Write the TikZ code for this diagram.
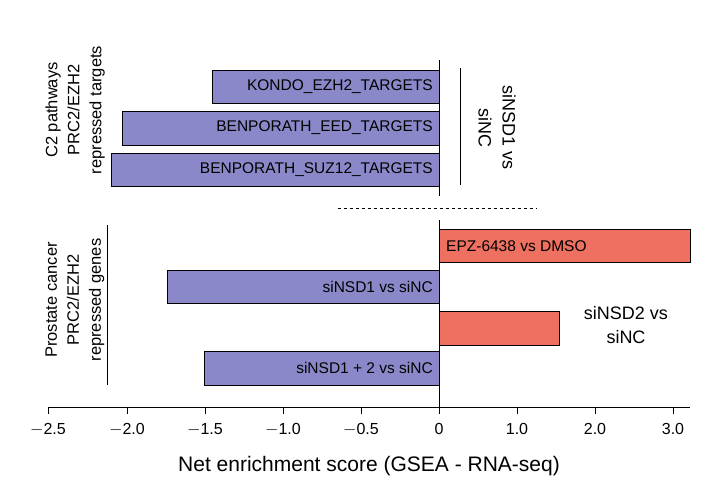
\documentclass[tikz,border=0pt]{standalone}
\usepackage{fontspec}
\setmainfont{Liberation Sans}
\definecolor{barblue}{RGB}{138,136,200}
\definecolor{barred}{RGB}{238,112,96}
\begin{document}
\begin{tikzpicture}[x=1pt,y=-1pt,
  bar/.style={draw=black,line width=0.8pt},
  blab/.style={anchor=east,font=\fontsize{15.5}{17}\selectfont,inner sep=0pt},
  tick/.style={line width=0.7pt},
  side/.style={rotate=90,align=center,font=\fontsize{16.5}{22}\selectfont}]
\useasboundingbox (0,0) rectangle (713,479);
% top group
\draw[bar,fill=barblue] (212,70) rectangle (439,103);
\draw[bar,fill=barblue] (122,111) rectangle (439,145);
\draw[bar,fill=barblue] (111,153) rectangle (439,186);
\node[blab] (k) at (433,87) {KONDO\_EZH2\_TARGETS};
\node[blab] (e) at (433,128) {BENPORATH\_EED\_TARGETS};
\node[blab] (s) at (433,170) {BENPORATH\_SUZ12\_TARGETS};
\draw[line width=0.7pt] (439,60) -- (439,196);
\draw[line width=0.7pt] (460,68) -- (460,185);
\node[rotate=-90,align=center,font=\fontsize{18}{24}\selectfont] (t1) at (497,128) {siNSD1 vs\\siNC};
\node[side] (l1) at (75,110) {C2 pathways\\PRC2/EZH2\\repressed targets};
\draw[dashed,line width=0.8pt] (338,208) -- (537,208);
% bottom group
\draw[bar,fill=barred] (439,229) rectangle (690,262);
\draw[bar,fill=barblue] (167,270) rectangle (439,303);
\draw[bar,fill=barred] (439,311) rectangle (559,345);
\draw[bar,fill=barblue] (204,351) rectangle (439,385);
\draw[line width=0.7pt] (439,220) -- (439,407);
\node[anchor=west,font=\fontsize{15.5}{17}\selectfont,inner sep=0pt] (epz) at (446,246) {EPZ-6438 vs DMSO};
\node[blab] (n1) at (433,287) {siNSD1 vs siNC};
\node[blab] (n12) at (433,368) {siNSD1 + 2 vs siNC};
\node[align=center,font=\fontsize{18}{24}\selectfont] (t2) at (626,325) {siNSD2 vs\\siNC};
\draw[line width=0.7pt] (107,225) -- (107,385);
\node[side] (l2) at (75,300) {Prostate cancer\\PRC2/EZH2\\repressed genes};
% axis
\draw[line width=0.8pt] (48,407) -- (690,407);
\foreach \x/\l in {48/{$-$2.5},127/{$-$2.0},205/{$-$1.5},283/{$-$1.0},361/{$-$0.5},439/0,517/1.0,595/2.0,673/3.0}{
  \draw[tick] (\x,407) -- (\x,414);
  \node[font=\fontsize{16}{18}\selectfont,anchor=north] at (\x,420) {\l};
}
\node[font=\fontsize{21}{24}\selectfont] (xl) at (369,466) {Net enrichment score (GSEA - RNA-seq)};
\end{tikzpicture}
\end{document}
